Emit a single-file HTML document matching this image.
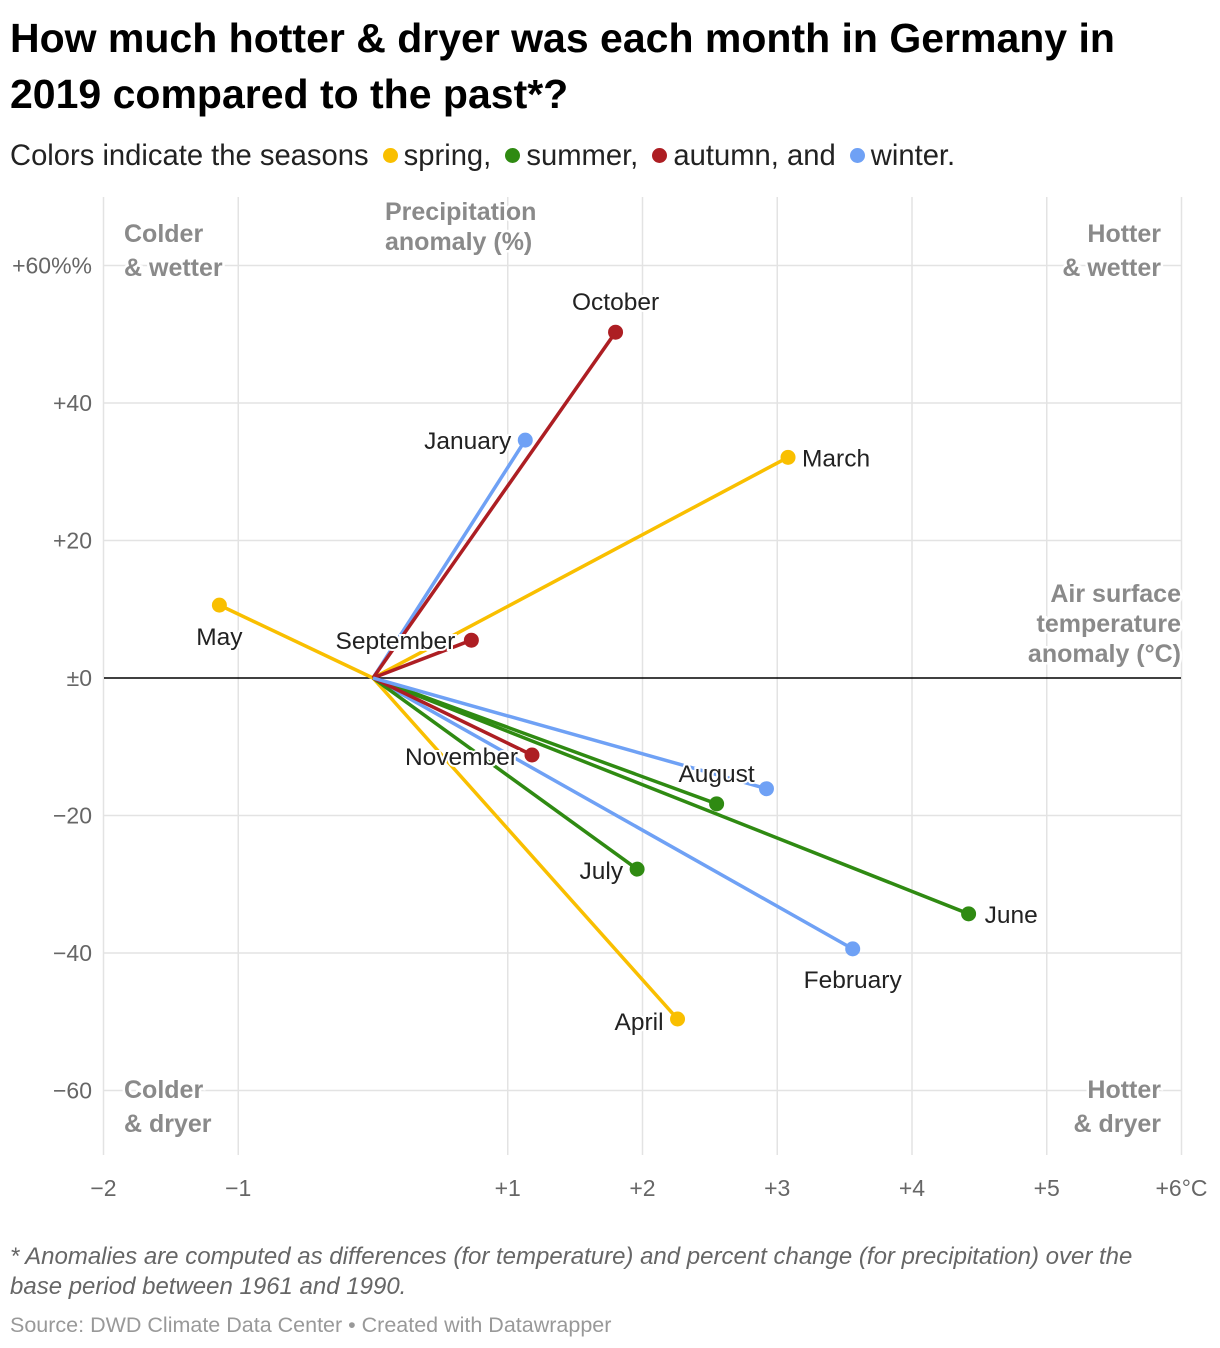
<!DOCTYPE html>
<html><head><meta charset="utf-8">
<style>
body{margin:0;background:#fff;font-family:"Liberation Sans",sans-serif;}
#wrap{position:relative;width:1220px;height:1348px;}
h1{position:absolute;left:10px;top:10px;margin:0;font-size:41px;line-height:56px;font-weight:bold;color:#000;width:1140px;}
.sub{position:absolute;left:10px;top:140px;font-size:29.2px;color:#222;}
.dot{display:inline-block;width:15px;height:15px;border-radius:50%;vertical-align:middle;margin:0 6px 4px 6px;}
.note{position:absolute;left:10px;top:1242px;font-size:24px;font-style:italic;color:#666;line-height:30px;width:1175px;}
.src{position:absolute;left:10px;top:1313px;font-size:21.5px;color:#999;}
svg text{font-family:"Liberation Sans",sans-serif;}
</style></head><body>
<div id="wrap">
<h1>How much hotter &amp; dryer was each month in Germany in 2019 compared to the past*?</h1>
<div class="sub">Colors indicate the seasons <span class="dot" style="background:#f9bf00"></span>spring, <span class="dot" style="background:#2f8a12"></span>summer, <span class="dot" style="background:#ad1e23"></span>autumn, and <span class="dot" style="background:#6fa1f5"></span>winter.</div>
<svg id="chart" width="1220" height="1348" style="position:absolute;left:0;top:0"></svg>
<div class="note">* Anomalies are computed as differences (for temperature) and percent change (for precipitation) over the base period between 1961 and 1990.</div>
<div class="src">Source: DWD Climate Data Center • Created with Datawrapper</div>
</div>
<script>
const months=["January","February","March","April","May","June","July","August","September","October","November","December"];
const seasons=["winter","winter","spring","spring","spring","summer","summer","summer","autumn","autumn","autumn","winter"];
const tempAnom=[1.13,3.56,3.08,2.26,-1.14,4.42,1.96,2.55,0.73,1.80,1.18,2.92];
const precAnom=[34.6,-39.4,32.1,-49.6,10.6,-34.3,-27.8,-18.3,5.5,50.3,-11.2,-16.1];
const xTicks=[-2,-1,1,2,3,4,5,6];
const xTickLabels=["\u22122","\u22121","+1","+2","+3","+4","+5","+6°C"];
const yTicks=[60,40,20,0,-20,-40,-60];
const yTickLabels=["+60%%","+40","+20","±0","\u221220","\u221240","\u221260"];
const colors={spring:"#f9bf00",summer:"#2f8a12",autumn:"#ad1e23",winter:"#6fa1f5"};
const X=v=>373+v*134.75;
const Y=v=>678-v*6.875;
const NS="http://www.w3.org/2000/svg";
const svg=document.getElementById('chart');
function mk(t,a,p){const e=document.createElementNS(NS,t);for(const k in a)e.setAttribute(k,a[k]);(p||svg).appendChild(e);return e;}
xTicks.forEach((t,i)=>{
 const l=mk('line',{x1:X(t),x2:X(t),y1:197,y2:1155,stroke:'#e3e3e3','stroke-width':1.5});
 
 
 const tx=mk('text',{x:X(t),y:1196,'text-anchor':'middle','font-size':23,fill:'#666'});
 tx.textContent=xTickLabels[i];
 
 
});
yTicks.forEach((t,i)=>{
 if(t!==0){const l=mk('line',{x1:104,x2:1181,y1:Y(t),y2:Y(t),stroke:'#e3e3e3','stroke-width':1.5});
 
 }
 const tx=mk('text',{x:92,y:Y(t)+8,'text-anchor':'end','font-size':23,fill:'#666'});
 tx.textContent=yTickLabels[i];
 
 
});
const z=mk('line',{x1:104,x2:1181,y1:Y(0),y2:Y(0),stroke:'#000','stroke-width':1.5});


function lab(txt,x,y,anchor,name){const t=mk('text',{x:x,y:y,'text-anchor':anchor,'font-size':25,'font-weight':'bold',fill:'#8a8a8a',stroke:'#fff','stroke-width':5,'paint-order':'stroke'});t.textContent=txt;
 
 }
lab("Colder",124,242,'start','quadrant-label');lab("& wetter",124,276,'start','quadrant-label');
lab("Hotter",1161,242,'end','quadrant-label');lab("& wetter",1161,276,'end','quadrant-label');
lab("Colder",124,1098,'start','quadrant-label');lab("& dryer",124,1132,'start','quadrant-label');
lab("Hotter",1161,1098,'end','quadrant-label');lab("& dryer",1161,1132,'end','quadrant-label');
lab("Precipitation",385,220,'start','y-axis-title');lab("anomaly (%)",385,250,'start','y-axis-title');
lab("Air surface",1181,602,'end','x-axis-title');lab("temperature",1181,632,'end','x-axis-title');lab("anomaly (°C)",1181,662,'end','x-axis-title');
months.forEach((m,i)=>{
 const l=mk('line',{x1:X(0),y1:Y(0),x2:X(tempAnom[i]),y2:Y(precAnom[i]),stroke:colors[seasons[i]],'stroke-width':3.5});
 
 
});
months.forEach((m,i)=>{
 const c=mk('circle',{cx:X(tempAnom[i]),cy:Y(precAnom[i]),r:7.5,fill:colors[seasons[i]]});
 
 
});
const labelOff={January:[-14,9,'end'],February:[0,39,'middle'],March:[14,9,'start'],April:[-14,11,'end'],May:[0,40,'middle'],June:[16,9,'start'],July:[-14,10,'end'],August:[0,-22,'middle'],September:[-16,9,'end'],October:[0,-22,'middle'],November:[-14,10,'end']};
months.forEach((m,i)=>{
 if(!labelOff[m])return;
 const o=labelOff[m];
 const t=mk('text',{x:X(tempAnom[i])+o[0],y:Y(precAnom[i])+o[1],'text-anchor':o[2],'font-size':24.5,fill:'#222',stroke:'#fff','stroke-width':4,'paint-order':'stroke'});
 t.textContent=m;
 
 
});
</script>
</body></html>
